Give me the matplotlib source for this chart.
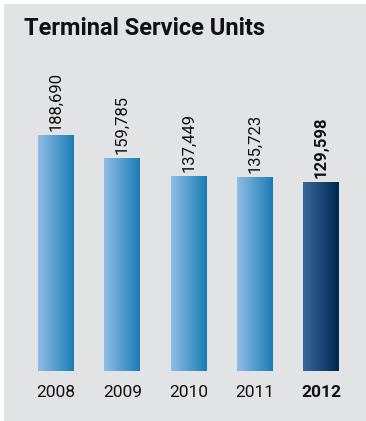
import numpy as np
import matplotlib.pyplot as plt
from matplotlib.colors import LinearSegmentedColormap
from matplotlib.patches import Rectangle

years = ["2008", "2009", "2010", "2011", "2012"]
units = [188690, 159785, 137449, 135723, 129598]
value_labels = ["188,690", "159,785", "137,449", "135,723", "129,598"]

W, H = 366, 421
plt.rcParams["font.family"] = ["Roboto", "DejaVu Sans"]

fig = plt.figure(figsize=(W / 100, H / 100), dpi=100)
fig.patch.set_facecolor("white")

# grey panel behind everything
fig.add_artist(Rectangle((4 / W, 0), 1 - 4 / W, 1 - 4 / H, transform=fig.transFigure,
                         facecolor="#e2e3e5", edgecolor="none", zorder=0))

fig.text(24 / W, 1 - 35 / H, "Terminal Service Units", fontsize=17, fontweight="bold",
         color="#111111", va="baseline", ha="left")

ax = fig.add_axes([23 / W, 1 - 371 / H, (354 - 23) / W, (371 - 60) / H])
ax.set_facecolor("none")

base = -108000
ax.set_xlim(-0.5, 4.5)
ax.set_ylim(base, 284000)

light = LinearSegmentedColormap.from_list("light", ["#8fbde6", "#1a7db5"])
dark = LinearSegmentedColormap.from_list("dark", ["#38679c", "#002752"])
grad = np.linspace(0, 1, 256).reshape(1, -1)
bw = 0.54

for i, v in enumerate(units):
    cmap = dark if i == len(units) - 1 else light
    ax.imshow(grad, cmap=cmap, aspect="auto", extent=(i - bw / 2, i + bw / 2, base, v),
              zorder=2)
    ax.annotate(value_labels[i], (i, v), xytext=(0, 3), textcoords="offset points",
                rotation=90, ha="center", va="bottom", fontsize=12,
                fontweight="bold" if i == len(units) - 1 else "normal", color="#111111")

ax.set_xlim(-0.5, 4.5)
ax.set_ylim(base, 284000)
ax.set_xticks(range(len(years)))
ax.set_xticklabels(years, fontsize=12.5, color="#111111")
ax.get_xticklabels()[-1].set_fontweight("bold")
ax.tick_params(axis="x", length=0, pad=10)
ax.set_yticks([])
for s in ax.spines.values():
    s.set_visible(False)

fig.savefig("out.png", dpi=100)
